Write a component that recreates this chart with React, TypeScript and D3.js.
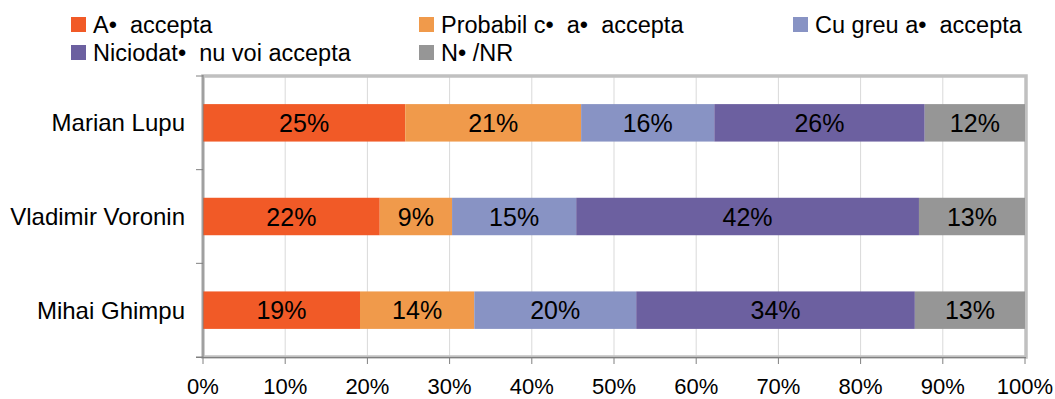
import * as d3 from 'd3';

const candidates = ['Marian Lupu', 'Vladimir Voronin', 'Mihai Ghimpu'];
const seriesNames = ['A•  accepta', 'Probabil c•  a•  accepta', 'Cu greu a•  accepta', 'Niciodat•  nu voi accepta', 'N• /NR'];
const seriesColors = ['#F15A27', '#F09A4B', '#8893C4', '#6C60A0', '#969696'];
const marianLupu = [24.6, 21.4, 16.2, 25.6, 12.2];
const vladimirVoronin = [21.5, 8.8, 15.1, 41.7, 12.9];
const mihaiGhimpu = [19.1, 13.9, 19.7, 33.9, 13.4];
const xTicks = [0, 10, 20, 30, 40, 50, 60, 70, 80, 90, 100];

const rows = [marianLupu, vladimirVoronin, mihaiGhimpu];

const W = 1055;
const H = 399;
const font = '"Liberation Sans", Arial, sans-serif';

export default function App() {
  const plot = { left: 203, right: 1025, top: 76, bottom: 357 };
  const x = d3.scaleLinear().domain([0, 100]).range([plot.left, plot.right]);
  const y = d3.scaleBand<string>().domain(candidates).range([plot.top, plot.bottom]).paddingInner(0.6).paddingOuter(0.3);

  const stack = d3.stack<number[]>().keys(seriesNames.map((_, i) => String(i))).value((d, k) => d[+k]);
  const layers = stack(rows);

  // legend grid positions
  const legendCols = [71, 419, 793];
  const legendRows = [25, 53];

  const catEdges = d3.range(candidates.length + 1).map((i) => plot.top + (i * (plot.bottom - plot.top)) / candidates.length);

  return (
    <svg width={W} height={H} style={{ position: 'absolute', left: 0, top: 0, fontFamily: font }}>
      <rect width={W} height={H} fill="#fff" />

      {/* legend */}
      {seriesNames.map((name, i) => {
        const lx = legendCols[i % 3];
        const ly = legendRows[Math.floor(i / 3)];
        return (
          <g key={name}>
            <rect x={lx} y={ly - 8} width={15} height={15} fill={seriesColors[i]} />
            <text x={lx + 22} y={ly} dy="0.35em" fontSize={23.5} fill="#000" style={{ whiteSpace: 'pre' }}>
              {name}
            </text>
          </g>
        );
      })}

      {/* gridlines */}
      {xTicks.slice(1, -1).map((t) => (
        <line key={t} x1={x(t)} x2={x(t)} y1={plot.top} y2={plot.bottom} stroke="#d9d9d9" strokeWidth={1} />
      ))}

      {/* plot frame */}
      <rect
        x={plot.left}
        y={plot.top}
        width={plot.right + 1 - plot.left}
        height={plot.bottom - plot.top}
        fill="none"
        stroke="#c0c0c0"
        strokeWidth={3.5}
      />

      {/* bars */}
      {layers.map((layer, si) =>
        layer.map((d, ci) => {
          const x0 = x(d[0]);
          const x1 = x(d[1]);
          const yy = y(candidates[ci])!;
          return (
            <g key={`${si}-${ci}`}>
              <rect x={x0} y={yy} width={x1 - x0} height={y.bandwidth()} fill={seriesColors[si]} />
              <text x={(x0 + x1) / 2} y={yy + y.bandwidth() / 2} dy="0.36em" textAnchor="middle" fontSize={25} fill="#000">
                {Math.round(d[1] - d[0])}%
              </text>
            </g>
          );
        })
      )}

      {/* axes */}
      <line x1={plot.left} x2={plot.left} y1={plot.top - 1} y2={plot.bottom} stroke="#808080" strokeWidth={1} />
      <line x1={plot.left - 7} x2={plot.right + 1} y1={plot.bottom + 0.5} y2={plot.bottom + 0.5} stroke="#808080" strokeWidth={1} />
      {catEdges.map((e, i) => (
        <line key={i} x1={plot.left - 7} x2={plot.left} y1={e} y2={e} stroke="#808080" strokeWidth={1} />
      ))}
      {xTicks.map((t) => (
        <g key={t}>
          <line x1={x(t)} x2={x(t)} y1={plot.bottom} y2={plot.bottom + 7} stroke="#808080" strokeWidth={1} />
          <text x={x(t)} y={386} dy="0.35em" textAnchor="middle" fontSize={22} fill="#000">
            {t}%
          </text>
        </g>
      ))}

      {/* category labels */}
      {candidates.map((c) => (
        <text key={c} x={185} y={y(c)! + y.bandwidth() / 2} dy="0.35em" textAnchor="end" fontSize={24} fill="#000">
          {c}
        </text>
      ))}
    </svg>
  );
}
